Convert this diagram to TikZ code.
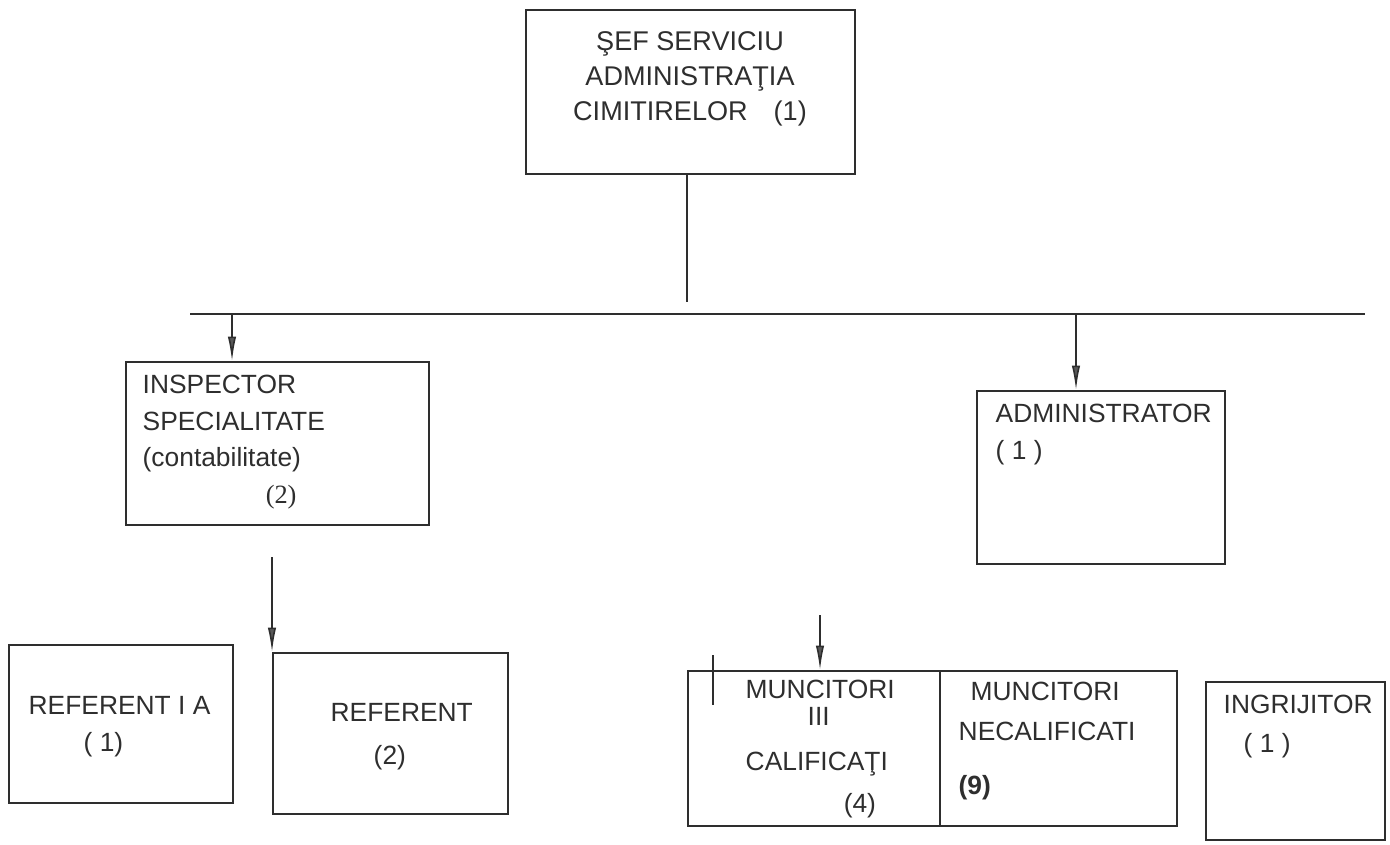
\documentclass[tikz,border=0pt]{standalone}
\usepackage{fontspec}
\setmainfont{Liberation Sans}
\newfontfamily\serifnum{Liberation Serif}
\usetikzlibrary{calc,fit,positioning,arrows.meta}
\definecolor{ScanInk}{HTML}{2E2E2E}

\tikzset{
  box/.style={draw=ScanInk, line width=0.5pt, inner sep=0pt},
  txt/.style={inner sep=0pt, text=ScanInk, align=left, font=\fontsize{7.5}{10.5}\selectfont},
  arr/.style={draw=ScanInk, line width=0.45pt, -{Latex[length=7pt,width=2.4pt,fill=ScanInk!80]}},
  link/.style={draw=ScanInk, line width=0.45pt}
}

\begin{document}
\begin{tikzpicture}[x=0.01cm, y=-0.01cm]
  \useasboundingbox (0,0) rectangle (1390,845);

  % boxes
  \node[box, fit={(526,10) (855,174)}] (sef) {};
  \node[box, fit={(126,362) (429,525)}] (insp) {};
  \node[box, fit={(977,391) (1225,564)}] (admin) {};
  \node[box, fit={(9,645) (233,803)}] (refIA) {};
  \node[box, fit={(273,653) (508,814)}] (ref) {};
  \node[box, fit={(688,671) (940,826)}] (muncA) {};
  \node[box, fit={(940,671) (1177,826)}] (muncB) {};
  \node[box, fit={(1206,682) (1385,840)}] (ingr) {};

  % texts
  \node[txt, align=center, anchor=north, font=\fontsize{7.7}{10}\selectfont] (sef-t) at (690,31)
    {ŞEF SERVICIU\\ADMINISTRAŢIA\\CIMITIRELOR\hspace{0.26cm}(1)};
  \node[txt, anchor=north west] (insp-t) at (142,374)
    {INSPECTOR\\SPECIALITATE\\(contabilitate)\\\hspace*{1.23cm}{\serifnum (2)}};
  \node[txt, anchor=north west] (admin-t) at (995,403) {ADMINISTRATOR\\( 1 )};
  \node[txt, anchor=north west] (refIA-t) at (28,696) {REFERENT I A\\\hspace*{0.55cm}( 1)};
  \node[txt, anchor=north west] (ref-t) at (330,703) {REFERENT\\[1.7pt]\hspace*{0.43cm}(2)};
  \node[txt, anchor=north west] (muncA-t) at (745,679)
    {MUNCITORI\\[-2.85pt]\hspace*{0.62cm}III\\[2.3pt]CALIFICAŢI\\[1.7pt]\hspace*{0.98cm}(4)};
  \node[txt, anchor=north west] (muncB-t) at (958,681)
    {\hspace*{0.12cm}MUNCITORI\\[0.85pt]NECALIFICATI\\[5.1pt]\textbf{(9)}};
  \node[txt, anchor=north west] (ingr-t) at (1223,694) {INGRIJITOR\\[0.6pt]\hspace*{0.2cm}( 1 )};

  % connectors
  \coordinate (barL) at (190,314);
  \coordinate (barR) at (1365,314);
  \coordinate (sefEnd) at (687,302);
  \coordinate (brInsp) at (232,314);
  \coordinate (brAdmin) at (1076,314);
  \coordinate (refStart) at (272,557);
  \coordinate (muncStart) at (820,615);
  \coordinate (mark) at (713,655);

  \draw[link] (barL) -- (barR);
  \draw[link] (sef.south -| sefEnd) -- (sefEnd);
  \draw[arr] (brInsp) -- (brInsp |- insp.north);
  \draw[arr] (brAdmin) -- (brAdmin |- admin.north);
  \draw[arr] (refStart) -- (refStart |- ref.north);
  \draw[arr] (muncStart) -- (muncStart |- muncA.north);
  \draw[link] (mark) -- ++(0,50);
\end{tikzpicture}
\end{document}
